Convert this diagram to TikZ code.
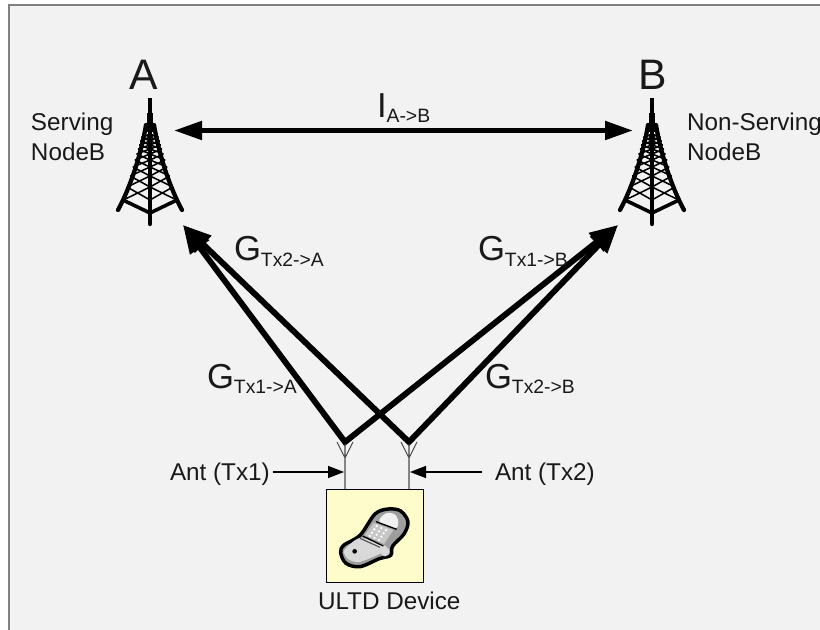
\documentclass[tikz,border=0pt]{standalone}
\usepackage{fontspec}
\setmainfont{Liberation Sans}
\usetikzlibrary{arrows.meta,shapes.geometric}
\tikzset{
  lbl/.style={inner sep=0pt,outer sep=0pt,anchor=base west,font=\fontsize{18.2}{20}\selectfont,text=black!90},
  big/.style={inner sep=0pt,outer sep=0pt,anchor=base,font=\fontsize{32}{36}\selectfont,text=black!90},
  gain/.style={inner sep=0pt,outer sep=0pt,anchor=base west,font=\fontsize{26}{30}\selectfont,text=black!90},
  hlink/.style={line width=3.75pt,miter limit=10},
  dlink/.style={line width=4.4pt,miter limit=10},
  hhead/.style={{Triangle[length=21pt,width=13.5pt]}-{Triangle[length=21pt,width=13.5pt]}},
  dhead/.style={{Triangle[length=21pt,width=17pt]}-{Triangle[length=21pt,width=17pt]}},
  thinp/.style={line width=0.8pt,draw=black!70},
  pointer/.style={line width=1.1pt,-{Triangle[length=12pt,width=9pt]}},
  tower/.pic={
    \draw[line width=2.6pt] (0,98) -- (0,125);
    \draw[line width=5pt] (0,113) -- (0,132);
    \foreach \ya/\yb in {200/187,187/176,176/167,167/160,160/154,154/149,149/145,145/141,141/137,137/134}{
      \pgfmathsetmacro\xa{5.5+(\ya-127)*0.29}
      \pgfmathsetmacro\xb{5.5+(\yb-127)*0.29}
      \draw[line width=1.15pt] (-\xa,\ya) -- (0,\yb) (0,\ya) -- (-\xb,\yb);
      \draw[line width=1.15pt] (\xa,\ya) -- (0,\yb) (0,\ya) -- (\xb,\yb);
    }
    \draw[line width=3.2pt,line cap=round] (-4,125) .. controls (-9,155) and (-20,188) .. (-32,210);
    \draw[line width=3.2pt,line cap=round] (4,125) .. controls (9,155) and (20,188) .. (32,210);
    \draw[line width=3.2pt,line cap=round] (0,127) -- (0,224);
    \draw[line width=2.7pt,line join=round] (-27,200) -- (0,213) -- (27,200);
  }
}
\begin{document}
\begin{tikzpicture}[x=0.75pt,y=-0.75pt]
\useasboundingbox (0,0) rectangle (820,630);
\fill[white] (0,0) rectangle (820,630);
\fill[black!5] (8,5) rectangle (820,630);
\draw[line width=1.5pt,draw=black!50] (8.5,630) -- (8.5,5.5) -- (820,5.5);

% towers
\pic (towerA) at (150,0) {tower};
\pic (towerB) at (652,0) {tower};

% titles
\node[big] (nameA) at (144,90) {A};
\node[big] (nameB) at (653,90) {B};
\node[lbl] (servA) at (31,131) {Serving};
\node[lbl] (servB) at (31,161) {NodeB};
\begin{scope}
\clip (0,0) rectangle (820,630);
\node[lbl] (nonA) at (687,131) {Non-Serving};
\end{scope}
\node[lbl] (nonB) at (687,161) {NodeB};

% coordinates
\coordinate (lA) at (174,130.5);
\coordinate (lB) at (633,130.5);
\coordinate (tipA) at (183,225);
\coordinate (tipB) at (618,225);
\coordinate (v1) at (345,442);
\coordinate (v2) at (409,442);

% links
\draw[hlink,hhead] (lA) -- (lB);
\draw[dlink,dhead] (tipA) -- (v1) -- (tipB);
\draw[dlink,dhead] (tipA) -- (v2) -- (tipB);

% gain labels
\node[gain] (iab) at (377,118) {I\raisebox{-3.5pt}{\fontsize{14.5}{16}\selectfont A->B}};
\node[gain] (g2a) at (234,261) {G\raisebox{-4pt}{\fontsize{14.5}{16}\selectfont Tx2->A}};
\node[gain] (g1a) at (207,388) {G\raisebox{-4pt}{\fontsize{14.5}{16}\selectfont Tx1->A}};
\node[gain] (g1b) at (478,261) {G\raisebox{-4pt}{\fontsize{14.5}{16}\selectfont Tx1->B}};
\node[gain] (g2b) at (485,388) {G\raisebox{-4pt}{\fontsize{14.5}{16}\selectfont Tx2->B}};

% device box
\node[draw=black,line width=0.9pt,fill=yellow!20!white,minimum width=72.75pt,minimum height=69.75pt,inner sep=0pt,anchor=north west] (dev) at (326,489) {};
\node[lbl] (devlbl) at (318,609) {ULTD Device};

% antennas
\coordinate (a1) at (345,458);
\coordinate (a2) at (409,458);
\coordinate (b1) at (345,489);
\coordinate (b2) at (409,489);
\draw[thinp] (b1) -- (a1) -- (337,442) (a1) -- (345,444) (a1) -- (353,442);
\draw[thinp] (b2) -- (a2) -- (401,442) (a2) -- (409,444) (a2) -- (417,442);

% antenna labels and pointers
\node[lbl] (ant1) at (170,480) {Ant (Tx1)};
\node[lbl] (ant2) at (495,480) {Ant (Tx2)};
\coordinate (p1s) at (273,472);
\coordinate (p1e) at (344,472);
\coordinate (p2s) at (482,472);
\coordinate (p2e) at (410,472);
\draw[pointer] (p1s) -- (p1e);
\draw[pointer] (p2s) -- (p2e);

% phone
\begin{scope}[shift={(280,410)},x=0.25pt,y=-0.25pt]
  \filldraw[draw=black,line width=2.6pt,fill=black!38]
    plot[smooth cycle,tension=0.55] coordinates {(325,297) (362,303) (384,335) (372,372) (338,408) (332,436)
     (298,446) (240,470) (198,460) (182,428) (192,405) (240,376) (285,312)};
  \fill[black!15] plot[smooth cycle,tension=0.4] coordinates {(240,384) (320,410) (298,432) (238,456) (205,448) (192,422)};
  \fill[black!22] (282,338) -- (340,360) -- (312,402) -- (254,375) -- cycle;
  \fill[blue!12!black!6!white] plot[smooth cycle,tension=0.6] coordinates {(298,335) (318,310) (345,314) (355,338) (345,354)};
  \draw[line width=1pt,black] (288,335) -- (350,358);
  \draw[line width=1pt,black] (248,378) -- (310,408);
  \draw[line width=0.8pt,black!70] (240,385) -- (300,412);
  \foreach \i in {0,1,2,3}{\foreach \j in {0,1,2}{
    \fill[white] (290+\j*14-\i*7,348+\j*6+\i*10) circle (4);
  }}
  \fill[black] (224,424) circle (7);
  \fill[white!85!black] (315,425) circle (14);
\end{scope}
\end{tikzpicture}
\end{document}
